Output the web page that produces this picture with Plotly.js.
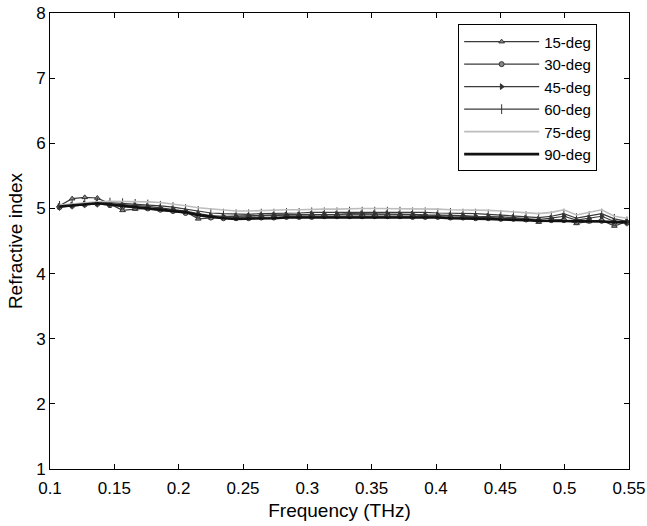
<!DOCTYPE html>
<html>
<head>
<meta charset="utf-8">
<script src="https://cdn.plot.ly/plotly-3.0.1.min.js"></script>
<style>html,body{margin:0;padding:0;background:#fff;}#chart{width:647px;height:526px;}</style>
</head>
<body>
<div id="chart"></div>
<script>
const freq = [
  0.1074, 0.1172, 0.1270, 0.1368, 0.1466, 0.1564, 0.1662, 0.1760, 0.1858, 0.1956,
  0.2054, 0.2152, 0.2250, 0.2348, 0.2446, 0.2544, 0.2642, 0.2740, 0.2838, 0.2936,
  0.3034, 0.3132, 0.3230, 0.3328, 0.3426, 0.3524, 0.3622, 0.3720, 0.3818, 0.3916,
  0.4014, 0.4112, 0.4210, 0.4308, 0.4406, 0.4504, 0.4602, 0.4700, 0.4798, 0.4896,
  0.4994, 0.5092, 0.5190, 0.5288, 0.5386, 0.5484
];
const deg15 = [
  5.04, 5.15, 5.17, 5.16, 5.07, 4.97, 4.99, 5.00, 4.98, 4.97,
  4.95, 4.84, 4.86, 4.87, 4.88, 4.89, 4.90, 4.90, 4.90, 4.90,
  4.91, 4.91, 4.91, 4.91, 4.91, 4.91, 4.90, 4.90, 4.90, 4.89,
  4.89, 4.88, 4.88, 4.87, 4.86, 4.85, 4.84, 4.83, 4.79, 4.82,
  4.83, 4.77, 4.80, 4.82, 4.73, 4.80
];
const deg30 = [
  5.02, 5.04, 5.06, 5.07, 5.05, 5.03, 5.01, 5.00, 4.98, 4.96,
  4.93, 4.89, 4.86, 4.85, 4.85, 4.85, 4.86, 4.86, 4.87, 4.87,
  4.87, 4.88, 4.88, 4.88, 4.88, 4.88, 4.88, 4.88, 4.87, 4.87,
  4.87, 4.86, 4.86, 4.85, 4.85, 4.84, 4.84, 4.83, 4.81, 4.82,
  4.82, 4.79, 4.81, 4.81, 4.78, 4.78
];
const deg45 = [
  5.03, 5.05, 5.07, 5.08, 5.07, 5.06, 5.05, 5.03, 5.01, 4.99,
  4.96, 4.92, 4.89, 4.88, 4.88, 4.88, 4.89, 4.89, 4.90, 4.90,
  4.91, 4.91, 4.91, 4.92, 4.92, 4.92, 4.92, 4.91, 4.91, 4.90,
  4.90, 4.89, 4.89, 4.88, 4.88, 4.87, 4.86, 4.85, 4.83, 4.85,
  4.88, 4.82, 4.85, 4.88, 4.80, 4.79
];
const deg60 = [
  5.04, 5.06, 5.08, 5.09, 5.09, 5.08, 5.07, 5.06, 5.04, 5.02,
  4.99, 4.96, 4.93, 4.92, 4.91, 4.91, 4.92, 4.92, 4.93, 4.93,
  4.94, 4.94, 4.94, 4.95, 4.95, 4.95, 4.95, 4.95, 4.94, 4.94,
  4.93, 4.93, 4.92, 4.92, 4.91, 4.90, 4.89, 4.88, 4.86, 4.88,
  4.92, 4.85, 4.88, 4.92, 4.84, 4.80
];
const deg75 = [
  5.05, 5.07, 5.09, 5.10, 5.11, 5.11, 5.11, 5.10, 5.09, 5.07,
  5.04, 5.01, 4.99, 4.97, 4.96, 4.96, 4.97, 4.97, 4.98, 4.98,
  4.99, 4.99, 4.99, 5.00, 5.00, 5.00, 5.00, 5.00, 5.00, 4.99,
  4.99, 4.98, 4.98, 4.97, 4.97, 4.96, 4.95, 4.94, 4.92, 4.94,
  4.98, 4.90, 4.94, 4.98, 4.88, 4.85
];
const deg90 = [
  5.03, 5.05, 5.07, 5.08, 5.06, 5.04, 5.02, 5.01, 4.99, 4.97,
  4.94, 4.90, 4.87, 4.85, 4.84, 4.84, 4.85, 4.85, 4.86, 4.86,
  4.86, 4.87, 4.87, 4.87, 4.87, 4.87, 4.87, 4.87, 4.86, 4.86,
  4.86, 4.85, 4.85, 4.84, 4.84, 4.83, 4.83, 4.82, 4.81, 4.81,
  4.80, 4.80, 4.80, 4.80, 4.79, 4.79
];
const names = ['15-deg', '30-deg', '45-deg', '60-deg', '75-deg', '90-deg'];
const xTicks = [0.1, 0.15, 0.2, 0.25, 0.3, 0.35, 0.4, 0.45, 0.5, 0.55];
const xTickText = ['0.1', '0.15', '0.2', '0.25', '0.3', '0.35', '0.4', '0.45', '0.5', '0.55'];
const yTicks = [1, 2, 3, 4, 5, 6, 7, 8];

const series = [deg15, deg30, deg45, deg60, deg75, deg90];
const styles = [
  {color: '#3a3a3a', width: 1.2, marker: {symbol: 'triangle-up', size: 5, color: '#888', line: {color: '#333', width: 1}}},
  {color: '#3a3a3a', width: 1.2, marker: {symbol: 'circle', size: 5, color: '#888', line: {color: '#333', width: 1}}},
  {color: '#3a3a3a', width: 1.2, marker: {symbol: 'triangle-right', size: 5, color: '#333', line: {color: '#333', width: 1}}},
  {color: '#3a3a3a', width: 1.2, marker: {symbol: 'line-ns', size: 7, color: '#333', line: {color: '#333', width: 1}}},
  {color: '#bdbdbd', width: 1.6, marker: null},
  {color: '#111', width: 2.6, marker: null}
];

const traces = series.map((ys, k) => {
  const s = styles[k];
  const t = {
    x: freq, y: ys, name: names[k], type: 'scatter',
    mode: s.marker ? 'lines+markers' : 'lines',
    line: {color: s.color, width: s.width}
  };
  if (s.marker) t.marker = s.marker;
  return t;
});

const font = {family: '"Liberation Sans", Arial, sans-serif', color: '#000'};
const layout = {
  width: 647, height: 526,
  margin: {l: 50, r: 18, t: 13, b: 57},
  paper_bgcolor: '#fff', plot_bgcolor: '#fff',
  font: Object.assign({size: 16}, font),
  showlegend: true,
  legend: {
    x: 0.945, xanchor: 'right', y: 0.975, yanchor: 'top',
    bgcolor: '#fff', bordercolor: '#000', borderwidth: 1,
    font: Object.assign({size: 15}, font),
    itemwidth: 75,
    tracegroupgap: 0
  },
  xaxis: {
    range: [0.1, 0.55], tickvals: xTicks, ticktext: xTickText,
    ticks: 'inside', ticklen: 5, tickcolor: '#000',
    showline: true, linecolor: '#000', linewidth: 1, mirror: 'ticks',
    showgrid: false, zeroline: false,
    ticklabelstandoff: 4,
    tickfont: Object.assign({size: 17}, font),
    title: {text: 'Frequency (THz)', font: Object.assign({size: 19}, font), standoff: 6}
  },
  yaxis: {
    range: [1, 8], tickvals: yTicks,
    ticks: 'inside', ticklen: 5, tickcolor: '#000',
    showline: true, linecolor: '#000', linewidth: 1, mirror: 'ticks',
    showgrid: false, zeroline: false,
    tickfont: Object.assign({size: 17}, font),
    title: {text: 'Refractive index', font: Object.assign({size: 19}, font), standoff: 8}
  }
};
Plotly.newPlot('chart', traces, layout, {displayModeBar: false, staticPlot: true});
</script>
</body>
</html>
